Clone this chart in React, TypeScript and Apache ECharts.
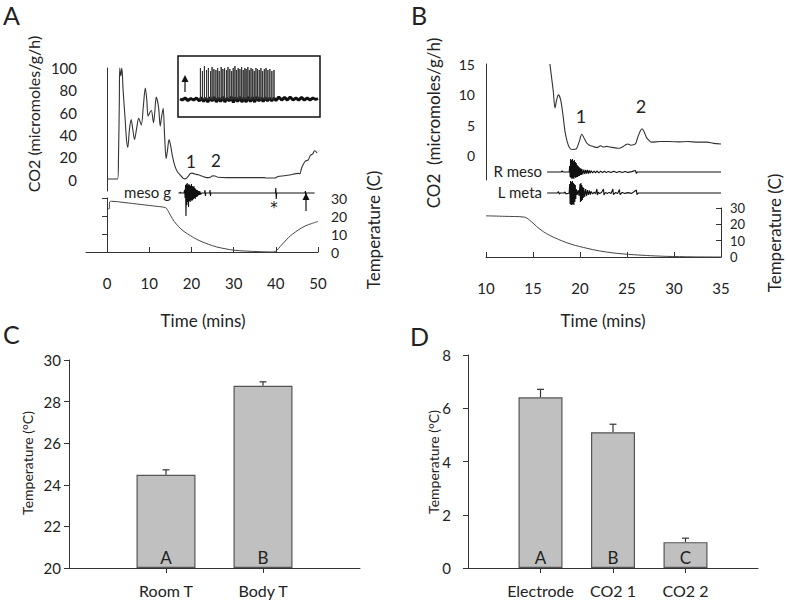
import React, { useEffect, useRef } from 'react';
import * as echarts from 'echarts';

const FONT = 'Lato, "Open Sans", sans-serif';
const INK = '#222';
const AXIS = '#333';

// ---------- Panel A ----------
const aTimeTicks = [0, 10, 20, 30, 40, 50];
const aCo2Ticks = [0, 20, 40, 60, 80, 100];
// [time (min), CO2 (micromoles/g/h)]
const aCo2: [number, number][] = [
  [0.1, 0.7], [2.5, 0.7], [2.7, 20], [2.9, 70], [3.0, 100], [3.25, 93], [3.5, 100], [3.8, 80],
  [4.3, 53], [4.6, 36], [4.9, 29], [5.3, 45], [5.7, 54], [6.1, 45], [6.5, 36], [7.0, 46],
  [7.5, 55], [8.1, 49], [8.6, 66], [9.05, 82], [9.4, 72], [9.7, 57], [10.1, 60], [10.5, 62],
  [11.0, 51], [11.3, 60], [11.65, 74], [12.2, 65], [12.6, 48], [12.9, 56], [13.3, 64], [13.6, 42],
  [14.0, 19], [14.3, 26], [14.7, 36], [15.1, 30], [15.5, 21], [16.1, 12], [16.7, 7], [17.3, 4.5],
  [18.0, 1.5], [18.5, 0.8], [19.2, 3], [19.7, 5.5], [20.1, 6], [20.8, 5.2], [21.6, 4.5], [22.6, 3.2],
  [23.6, 2], [24.4, 2.2], [25.0, 3.5], [25.6, 3.4], [26.3, 2.3], [28.3, 2], [32, 2], [37.4, 2],
  [37.6, 1.6], [39.8, 1.6], [40.5, 3], [42, 3.6], [43.3, 4.3], [45.3, 5.8], [45.7, 5.4], [46.1, 10.4],
  [46.9, 16.4], [47.7, 17.9], [48.2, 22], [48.7, 23], [49.2, 26], [49.8, 24],
];
// [time, temperature (C)]
const aTemp: [number, number][] = [
  [0.1, 24], [0.5, 24], [0.6, 27.8], [1.0, 28.2], [4, 27.5], [8, 26.4], [12, 25.3], [13.9, 24.6],
  [14.4, 23], [15.0, 20.5], [15.9, 17], [17.0, 14], [18.0, 11.8], [19.0, 10.2], [20.5, 8], [22, 6.2],
  [24, 4.3], [26, 2.8], [28, 1.8], [30, 1], [33, 0.5], [36, 0.2], [39.4, 0], [40.2, 0.8],
  [41, 3], [42, 5.5], [43, 8], [44, 10], [45.5, 12.5], [47, 14.5], [48.5, 15.8], [50, 17],
];
// meso g electromyogram [time, amplitude]
const aMeso: [number, number][] = [
  [16.9, 0], [17.3, 0], [17.4, 1], [17.5, 0], [18.2, 0], [18.4, 3], [18.5, -5], [18.6, 8], [18.7, -23],
  [18.8, 9], [18.9, -12], [19.0, 10], [19.1, -9], [19.2, 8], [19.3, -14], [19.4, 9], [19.5, -8],
  [19.6, 8], [19.7, -9], [19.8, 7], [19.9, -7], [20.0, 9], [20.1, -8], [20.2, 7], [20.3, -7],
  [20.4, 6], [20.5, -6], [20.6, 7], [20.7, -5], [20.8, 5], [20.9, -6], [21.0, 4], [21.1, -4],
  [21.2, 3], [21.3, -4], [21.4, 3], [21.5, -3], [21.6, 2], [21.7, -2], [21.8, 2], [21.9, -2],
  [22.0, 1.5], [22.2, -1.5], [22.4, 0], [23.1, 0], [23.2, 3], [23.3, -3], [23.4, 0], [24.3, 0],
  [24.4, 3], [24.5, -3], [24.6, 0], [39.9, 0], [40.0, 5], [40.1, -6], [40.2, 0], [46.9, 0],
  [47.0, 2], [47.1, -2], [47.2, 0], [49.2, 0],
];
// inset recording: spike [position, height], baseline [position, amplitude]
const insetSpikes: [number, number][] = [
  [15.8, 31], [17.2, 28], [18.6, 33], [20.1, 29], [21.4, 31], [22.9, 28], [24.0, 32], [25.3, 30],
  [26.7, 29], [27.9, 31], [29.0, 28], [30.4, 32], [31.6, 30], [32.8, 31], [34.1, 29], [35.2, 32],
  [36.5, 30], [37.8, 28], [38.9, 31], [40.1, 33], [41.3, 29], [42.4, 31], [43.6, 30], [44.8, 32],
  [45.9, 29], [47.1, 31], [48.0, 30], [49.2, 32], [50.3, 29], [51.4, 31], [52.6, 30], [53.7, 28],
  [54.9, 31], [56.0, 30], [57.2, 29], [58.4, 31], [59.6, 28], [60.8, 30], [62.0, 31], [63.3, 29],
  [64.7, 30], [66.1, 28], [67.6, 29],
];
const insetBaseline: [number, number][] = [
  [1.4, 0], [3, -1], [5, 1], [7, -1.5], [9, 0.5], [11, -1], [13, 1], [15, -2], [16.5, 1.5], [18, -2.5],
  [19.5, 1], [21, -3], [22.5, 1.5], [24, -2], [25.5, 2], [27, -3], [28.5, 1], [30, -2.5], [31.5, 2],
  [33, -3], [34.5, 1], [36, -2], [37.5, 2], [39, -3.5], [40.5, 1.5], [42, -2.5], [43.5, 2], [45, -3],
  [46.5, 1], [48, -3], [49.5, 2], [51, -2.5], [52.5, 1.5], [54, -3], [55.5, 2], [57, -2], [58.5, 1],
  [60, -2.5], [61.5, 1.5], [63, -2], [64.5, 1], [66, -2], [67.5, 1], [69, -1.5], [71, 2], [73, -1],
  [75, 1.5], [77, -1], [79, 2], [81, -1], [83, 1], [85, -1], [87, 1.5], [89, -1], [91, 1], [93, -1],
  [95, 1], [97, -0.5], [98.6, 0.5],
];

// ---------- Panel B ----------
const bCo2Ticks = [0, 5, 10, 15];
const bCo2: [number, number][] = [
  [16.8, 15], [17.0, 12.5], [17.16, 10.5], [17.34, 7.8], [17.5, 9], [17.7, 9.95], [17.95, 9.1],
  [18.2, 6.5], [18.4, 4], [18.65, 2.2], [18.9, 1.25], [19.2, 1.0], [19.6, 1.1], [19.9, 2.2],
  [20.2, 3.5], [20.45, 2.8], [20.7, 2.1], [21.0, 1.7], [21.4, 1.5], [21.8, 1.3], [22.2, 1.6],
  [22.5, 1.4], [22.8, 1.5], [23.2, 1.4], [23.6, 1.3], [24.0, 1.2], [24.3, 1.25], [24.6, 1.5],
  [24.9, 1.8], [25.1, 1.9], [25.4, 1.7], [25.9, 1.9], [26.1, 2.8], [26.4, 4.0], [26.6, 4.4],
  [26.85, 3.8], [27.1, 2.9], [27.4, 2.4], [27.6, 2.2], [28.5, 2.3], [29.5, 2.3], [30.5, 2.25],
  [31.5, 2.3], [32.5, 2.2], [33.5, 2.2], [34.2, 2.0], [35, 1.9],
];
const bTemp: [number, number][] = [
  [10, 25.2], [12, 24.9], [14.1, 24.4], [14.8, 21.8], [15.4, 18.6], [16.1, 15.5], [16.8, 13.2],
  [17.7, 10.8], [18.6, 8.7], [19.5, 7.1], [20.4, 5.8], [21.3, 4.6], [22.1, 3.7], [23.5, 2.5],
  [25.7, 1.4], [27.5, 0.8], [29.2, 0.4], [32, 0.1], [35, 0],
];
const bRMeso: [number, number][] = [
  [16.5, 0], [18.0, 0], [18.1, 1], [18.2, 0], [18.85, 0], [18.9, 6], [18.95, -5], [19.0, 13],
  [19.05, -6], [19.1, 12], [19.15, -7], [19.2, 13], [19.25, -6], [19.3, 11], [19.35, -7], [19.4, 12],
  [19.45, -5], [19.5, 10], [19.55, -6], [19.6, 9], [19.65, -5], [19.7, 7], [19.75, -5], [19.8, 6],
  [19.85, -4], [19.9, 5], [19.95, -4], [20.0, 4], [20.05, -3], [20.1, 3.5], [20.15, -3], [20.2, 3],
  [20.3, -2.5], [20.4, 2.5], [20.5, -2], [20.6, 2], [20.7, -1.5], [20.8, 2], [20.9, -1.5], [21.0, 1.5],
  [21.1, -1], [21.2, 1.2], [21.35, -1], [21.5, 1], [21.65, -0.8], [21.8, 1], [22.0, -0.8], [22.2, 0.8],
  [22.4, -0.6], [22.6, 0.8], [22.8, -0.6], [23.0, 0.6], [23.3, -0.5], [23.6, 0.7], [23.9, -0.5],
  [24.2, 0.6], [24.5, -0.5], [24.8, 0.5], [25.1, -0.4], [25.5, 0.4], [25.9, 1.5], [26.0, -1.5],
  [26.1, 0], [35, 0],
];
const bLMeta: [number, number][] = [
  [16.5, 0], [17.6, 0], [17.7, 1.5], [17.8, -1], [17.9, 0], [18.3, 0], [18.4, 1], [18.5, -1],
  [18.85, 0], [18.9, 9], [18.95, -11], [19.0, 12], [19.05, -12], [19.1, 11], [19.15, -12], [19.2, 12],
  [19.25, -11], [19.3, 10], [19.35, -12], [19.4, 9], [19.45, -9], [19.5, 8], [19.55, -6], [19.6, 4],
  [19.7, -2], [19.8, 3], [19.9, -3], [20.0, 9], [20.05, -9], [20.1, 10], [20.15, -8], [20.2, 8],
  [20.25, -7], [20.3, 6], [20.35, -5], [20.4, 5], [20.5, -4], [20.6, 4], [20.7, -3], [20.8, 3],
  [20.9, -2], [21.0, 2.5], [21.1, -1.5], [21.2, 1.5], [21.35, -1], [21.5, 1], [21.65, -0.8],
  [21.8, 4], [21.85, -2], [21.95, 0.8], [22.1, -0.6], [22.3, 0.8], [22.5, 4], [22.55, -2], [22.7, 0.6],
  [22.9, -0.5], [23.1, 0.6], [23.3, -0.5], [23.5, 4], [23.55, -1.5], [23.8, 0.5], [24.0, -0.5],
  [24.2, 3.5], [24.25, -1.5], [24.5, 0.5], [24.8, -0.4], [25.1, 0.4], [25.5, -0.4], [26.0, 3],
  [26.05, -1.5], [26.2, 0], [35, 0],
];

// ---------- Panel C ----------
const cCategories = ['Room T', 'Body T'];
const cValues = [24.48, 28.76];
const cErrors = [0.24, 0.19];
const cLetters = ['A', 'B'];

// ---------- Panel D ----------
const dCategories = ['Electrode', 'CO2 1', 'CO2 2'];
const dValues = [6.41, 5.1, 0.97];
const dErrors = [0.3, 0.3, 0.15];
const dLetters = ['A', 'B', 'C'];

const labelStyle = { color: INK, fontFamily: FONT, fontSize: 15 };
const lineAxis = { show: true, lineStyle: { color: AXIS, width: 1 } };

function hiddenX(grid: number, min: number, max: number) {
  return { type: 'value', gridIndex: grid, min, max, show: false, splitLine: { show: false } };
}
function hiddenY(grid: number, min: number, max: number) {
  return { type: 'value', gridIndex: grid, min, max, show: false, splitLine: { show: false } };
}

function traceSeries(x: number, y: number, data: [number, number][], color: string, width: number, extra: any = {}) {
  return {
    type: 'line', xAxisIndex: x, yAxisIndex: y, data, symbol: 'none', showSymbol: false,
    lineStyle: { color, width }, clip: false, silent: true, ...extra,
  };
}

function spikesToLine(spikes: [number, number][]): [number, number][] {
  const out: [number, number][] = [];
  spikes.forEach(([p, h]) => { out.push([p, 0], [p, h], [p, 0]); });
  return out;
}

function errorSeries(axis: number, values: number[], errors: number[]) {
  return {
    type: 'custom', xAxisIndex: axis, yAxisIndex: axis, silent: true,
    data: values.map((v, i) => [i + 1, v, errors[i]]),
    renderItem: (_p: any, api: any) => {
      const x = api.value(0), v = api.value(1), e = api.value(2);
      const p0 = api.coord([x, v]);
      const p1 = api.coord([x, v + e]);
      const st = { stroke: '#333', lineWidth: 1.2 };
      return {
        type: 'group',
        children: [
          { type: 'line', shape: { x1: p0[0], y1: p0[1], x2: p1[0], y2: p1[1] }, style: st },
          { type: 'line', shape: { x1: p1[0] - 3.5, y1: p1[1], x2: p1[0] + 3.5, y2: p1[1] }, style: st },
        ],
      };
    },
  };
}

function barSeries(axis: number, values: number[], letters: string[], width: number) {
  return {
    type: 'bar', xAxisIndex: axis, yAxisIndex: axis, barWidth: width, silent: true,
    data: values.map((v, i) => [i + 1, v]),
    itemStyle: { color: '#c0c0c0', borderColor: '#555', borderWidth: 1.2 },
    label: {
      show: true, position: 'insideBottom', distance: 2,
      formatter: (p: any) => letters[p.dataIndex],
      color: INK, fontFamily: FONT, fontSize: 17,
    },
  };
}

function txt(text: string, x: number, y: number, size: number, opts: any = {}) {
  return {
    type: 'text', x, y, rotation: opts.rotation || 0, silent: true,
    style: {
      text, fontFamily: opts.font || FONT, fontSize: size, fill: INK,
      align: opts.align || 'center', verticalAlign: 'middle',
    },
  };
}

function arrow(x: number, yTip: number, yTail: number) {
  return {
    type: 'group', silent: true,
    children: [
      { type: 'line', shape: { x1: x, y1: yTail, x2: x, y2: yTip + 4 }, style: { stroke: '#111', lineWidth: 1.2 } },
      { type: 'polygon', shape: { points: [[x, yTip], [x - 3.5, yTip + 7], [x + 3.5, yTip + 7]] }, style: { fill: '#111' } },
    ],
  };
}

const option: any = {
  animation: false,
  backgroundColor: '#fff',
  textStyle: { fontFamily: FONT },
  grid: [
    { left: 86, top: 68, width: 232, height: 123 }, // 0 A CO2
    { left: 86, top: 198, width: 232, height: 54 }, // 1 A temperature
    { left: 86, top: 178, width: 232, height: 45 }, // 2 A meso g
    { left: 178, top: 56, width: 142, height: 61, show: true, borderColor: '#111', borderWidth: 1.5, backgroundColor: 'transparent' }, // 3 inset
    { left: 486, top: 64, width: 235, height: 116 }, // 4 B CO2
    { left: 486, top: 208, width: 235, height: 49 }, // 5 B temperature
    { left: 486, top: 157, width: 235, height: 30 }, // 6 R meso
    { left: 486, top: 178, width: 235, height: 30 }, // 7 L meta
    { left: 69, top: 360, width: 291, height: 208 }, // 8 C
    { left: 468, top: 355, width: 290, height: 213 }, // 9 D
  ],
  xAxis: [
    hiddenX(0, -5, 50),
    {
      type: 'value', gridIndex: 1, min: -5, max: 50, position: 'bottom', offset: 9,
      splitLine: { show: false }, axisLine: lineAxis,
      axisTick: { show: true, inside: true, length: 5, lineStyle: { color: AXIS }, customValues: aTimeTicks },
      axisLabel: { ...labelStyle, margin: 14, customValues: aTimeTicks },
    },
    hiddenX(2, -5, 50),
    hiddenX(3, 0, 100),
    hiddenX(4, 10, 35),
    {
      type: 'value', gridIndex: 5, min: 10, max: 35, interval: 5, position: 'bottom', offset: 9,
      splitLine: { show: false }, axisLine: lineAxis,
      axisTick: { show: true, inside: true, length: 5, lineStyle: { color: AXIS } },
      axisLabel: { ...labelStyle, margin: 14 },
    },
    hiddenX(6, 10, 35),
    hiddenX(7, 10, 35),
    {
      type: 'value', gridIndex: 8, min: 0, max: 3, splitLine: { show: false }, axisLine: lineAxis,
      axisTick: { show: true, length: 5, lineStyle: { color: AXIS }, customValues: [1, 2] },
      axisLabel: { ...labelStyle, fontSize: 16, margin: 14, customValues: [1, 2], formatter: (v: number) => cCategories[Math.round(v) - 1] },
    },
    {
      type: 'value', gridIndex: 9, min: 0, max: 4, splitLine: { show: false }, axisLine: lineAxis,
      axisTick: { show: true, length: 5, lineStyle: { color: AXIS }, customValues: [1, 2, 3] },
      axisLabel: { ...labelStyle, fontSize: 16, margin: 14, customValues: [1, 2, 3], formatter: (v: number) => dCategories[Math.round(v) - 1] },
    },
  ],
  yAxis: [
    {
      type: 'value', gridIndex: 0, min: -10, max: 100, splitLine: { show: false }, axisLine: lineAxis,
      axisTick: { show: false },
      axisLabel: { ...labelStyle, fontSize: 15, margin: 9, customValues: aCo2Ticks },
    },
    {
      type: 'value', gridIndex: 1, position: 'right', min: 0, max: 30, interval: 10,
      splitLine: { show: false }, axisLine: lineAxis,
      axisTick: { show: true, inside: true, length: 5, lineStyle: { color: AXIS } },
      axisLabel: { ...labelStyle, fontSize: 14, margin: 13 },
    },
    hiddenY(2, -30, 15),
    hiddenY(3, -18, 43),
    {
      type: 'value', gridIndex: 4, min: -4, max: 15, splitLine: { show: false }, axisLine: lineAxis,
      axisTick: { show: false },
      axisLabel: { ...labelStyle, fontSize: 14, margin: 11, customValues: bCo2Ticks },
    },
    {
      type: 'value', gridIndex: 5, position: 'right', min: 0, max: 30, interval: 10,
      splitLine: { show: false }, axisLine: lineAxis,
      axisTick: { show: true, inside: true, length: 5, lineStyle: { color: AXIS } },
      axisLabel: { ...labelStyle, fontSize: 13, margin: 9, lineHeight: 14 },
    },
    hiddenY(6, -15, 15),
    hiddenY(7, -15, 15),
    {
      type: 'value', gridIndex: 8, min: 20, max: 30, interval: 2, startValue: 20,
      splitLine: { show: false }, axisLine: lineAxis,
      axisTick: { show: true, length: 5, lineStyle: { color: AXIS } },
      axisLabel: { ...labelStyle, fontSize: 15, margin: 8 },
    },
    {
      type: 'value', gridIndex: 9, min: 0, max: 8, interval: 2,
      splitLine: { show: false }, axisLine: lineAxis,
      axisTick: { show: true, length: 5, lineStyle: { color: AXIS } },
      axisLabel: { ...labelStyle, fontSize: 15, margin: 17 },
    },
  ],
  series: [
    traceSeries(0, 0, aCo2, '#333', 1.1, { smooth: 0.3 }),
    traceSeries(1, 1, aTemp, '#444', 1, { smooth: 0.3 }),
    traceSeries(2, 2, aMeso, '#111', 1.1),
    traceSeries(3, 3, insetBaseline, '#111', 3),
    traceSeries(3, 3, spikesToLine(insetSpikes), '#333', 1),
    traceSeries(4, 4, bCo2, '#333', 1.1, { smooth: 0.3 }),
    traceSeries(5, 5, bTemp, '#444', 1, { smooth: 0.3 }),
    traceSeries(6, 6, bRMeso, '#111', 1.1),
    traceSeries(7, 7, bLMeta, '#111', 1.1),
    barSeries(8, cValues, cLetters, 59),
    errorSeries(8, cValues, cErrors),
    barSeries(9, dValues, dLetters, 44),
    errorSeries(9, dValues, dErrors),
  ],
  graphic: [
    txt('A', 3, 15, 25, { align: 'left' }),
    txt('B', 411, 15, 25, { align: 'left' }),
    txt('C', 3, 334, 25, { align: 'left' }),
    txt('D', 410, 336, 25, { align: 'left' }),
    txt('CO2 (micromoles/g/h)', 33, 114, 16, { rotation: Math.PI / 2 }),
    txt('Temperature (C)', 373, 230, 17, { rotation: Math.PI / 2 }),
    txt('Time (mins)', 203, 320, 17),
    txt('CO2  (micromoles/g/h)', 433, 123, 17, { rotation: Math.PI / 2 }),
    txt('Temperature (C)', 774, 233, 17, { rotation: Math.PI / 2 }),
    txt('Time (mins)', 603, 320, 17),
    txt('Temperature (°C)', 27, 463, 14, { rotation: Math.PI / 2 }),
    txt('Temperature (°C)', 433, 462, 14, { rotation: Math.PI / 2 }),
    txt('1', 191, 161, 17),
    txt('2', 216, 160, 17),
    txt('1', 581, 116, 18),
    txt('2', 641, 106, 18),
    txt('meso g', 171, 192, 15, { align: 'right' }),
    txt('R meso', 542, 171, 15, { align: 'right' }),
    txt('L meta', 542, 192, 15, { align: 'right' }),
    txt('*', 274, 208, 15, { font: '"DejaVu Sans", sans-serif' }),
    arrow(306, 193, 211),
    arrow(185, 75, 92),
  ],
};

export default function App() {
  const ref = useRef<HTMLDivElement>(null);
  useEffect(() => {
    const chart = echarts.init(ref.current!, null, { renderer: 'svg' });
    chart.setOption(option);
    return () => chart.dispose();
  }, []);
  return <div ref={ref} style={{ position: 'absolute', left: 0, top: 0, width: 787, height: 604 }} />;
}
